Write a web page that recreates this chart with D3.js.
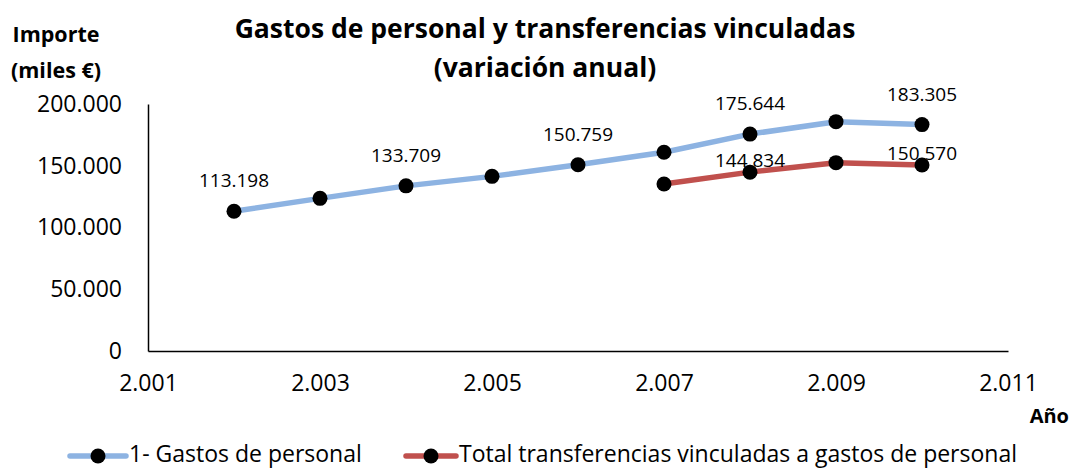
<!DOCTYPE html>
<html>
<head>
<meta charset="utf-8">
<script src="https://cdn.jsdelivr.net/npm/d3@7"></script>
<style>
  body { margin: 0; background: #fff; }
  text { font-family: "Open Sans", sans-serif; fill: #000; }
</style>
</head>
<body>
<div id="chart"></div>
<script>
// values
const years = [2002, 2003, 2004, 2005, 2006, 2007, 2008, 2009, 2010];
const personal = [113198, 123600, 133709, 141400, 150759, 160900, 175644, 185700, 183305];
const personalLabeled = [2002, 2004, 2006, 2008, 2010];

const transfYears = [2007, 2008, 2009, 2010];
const transf = [135200, 144834, 152500, 150570];
const transfLabeled = [2008, 2010];

const xTicks = [2001, 2003, 2005, 2007, 2009, 2011];
const yTicks = [0, 50000, 100000, 150000, 200000];

const seriesNames = ["1- Gastos de personal", "Total transferencias vinculadas a gastos de personal"];
const colors = ["#8db3e2", "#c0504d"];

const width = 1069, height = 468;
const margin = { top: 104, right: 61, bottom: 117, left: 148 };

const es = d3.formatLocale({ decimal: ",", thousands: ".", grouping: [3], currency: ["", " €"] });
const fmt = es.format(",");

const x = d3.scaleLinear().domain([2001, 2011]).range([margin.left, width - margin.right]);
const y = d3.scaleLinear().domain([0, 200000]).range([height - margin.bottom, margin.top]);

const svg = d3.select("#chart").append("svg")
    .attr("width", width)
    .attr("height", height);

// title
svg.append("text").attr("x", 545).attr("y", 38).attr("text-anchor", "middle")
    .style("font-size", "26.5px").style("font-weight", "bold")
    .text("Gastos de personal y transferencias vinculadas");
svg.append("text").attr("x", 545).attr("y", 77).attr("text-anchor", "middle")
    .style("font-size", "26.5px").style("font-weight", "bold")
    .text("(variación anual)");

// axis titles
svg.append("text").attr("x", 56).attr("y", 42).attr("text-anchor", "middle")
    .style("font-size", "21.5px").style("font-weight", "bold").text("Importe");
svg.append("text").attr("x", 56).attr("y", 78).attr("text-anchor", "middle")
    .style("font-size", "21.5px").style("font-weight", "bold").text("(miles €)");
svg.append("text").attr("x", 1069).attr("y", 423).attr("text-anchor", "end")
    .style("font-size", "20px").style("font-weight", "bold").text("Año");

// axes
const yAxis = svg.append("g")
    .attr("transform", `translate(${margin.left},0)`)
    .call(d3.axisLeft(y).tickValues(yTicks).tickFormat(fmt).tickSize(0).tickPadding(26));
yAxis.select(".domain").attr("stroke", "#000").attr("stroke-width", 1.5);
yAxis.selectAll(".tick text").style("font-size", "23px").style("font-family", "Open Sans, sans-serif");

const xAxis = svg.append("g")
    .attr("transform", `translate(0,${height - margin.bottom})`)
    .call(d3.axisBottom(x).tickValues(xTicks).tickFormat(fmt).tickSize(0).tickPadding(24));
xAxis.select(".domain").attr("stroke", "#000").attr("stroke-width", 1.5);
xAxis.selectAll(".tick text").style("font-size", "23px").style("font-family", "Open Sans, sans-serif");

const line = d3.line().x(d => x(d[0])).y(d => y(d[1]));

const series = [
  { xs: years, vs: personal, labeled: personalLabeled, color: colors[0], dy: -24 },
  { xs: transfYears, vs: transf, labeled: transfLabeled, color: colors[1], dy: -5 }
];

series.forEach(s => {
  const pts = s.xs.map((yr, i) => [yr, s.vs[i]]);
  svg.append("path").datum(pts)
      .attr("fill", "none").attr("stroke", s.color).attr("stroke-width", 5.5)
      .attr("stroke-linejoin", "round")
      .attr("d", line);
  svg.append("g").selectAll("circle").data(pts).join("circle")
      .attr("cx", d => x(d[0])).attr("cy", d => y(d[1])).attr("r", 7.5)
      .attr("fill", "#000");
});

series.forEach(s => {
  const pts = s.xs.map((yr, i) => [yr, s.vs[i]]).filter(d => s.labeled.includes(d[0]));
  svg.append("g").selectAll("text").data(pts).join("text")
      .attr("x", d => x(d[0])).attr("y", d => y(d[1]) + s.dy)
      .attr("text-anchor", "middle").style("font-size", "19px")
      .text(d => fmt(d[1]));
});

// legend
const legend = [
  { name: seriesNames[0], color: colors[0], x0: 70, x1: 126, tx: 129 },
  { name: seriesNames[1], color: colors[1], x0: 406, x1: 456, tx: 459 }
];
const ly = 456;
legend.forEach(l => {
  svg.append("line").attr("x1", l.x0).attr("x2", l.x1).attr("y1", ly).attr("y2", ly)
      .attr("stroke", l.color).attr("stroke-width", 5.5).attr("stroke-linecap", "round");
  svg.append("circle").attr("cx", (l.x0 + l.x1) / 2).attr("cy", ly).attr("r", 7.5).attr("fill", "#000");
  svg.append("text").attr("x", l.tx).attr("y", ly + 6).style("font-size", "23px").text(l.name);
});
</script>
</body>
</html>
